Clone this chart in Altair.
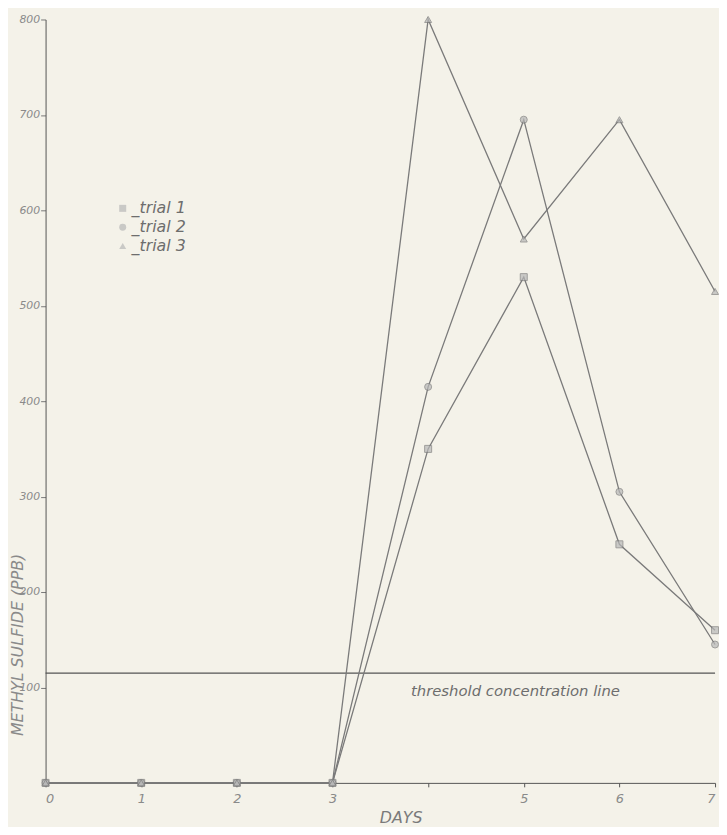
import altair as alt
import pandas as pd

days = [0, 1, 2, 3, 4, 5, 6, 7]
trial1 = [0, 0, 0, 0, 350, 530, 250, 160]
trial2 = [0, 0, 0, 0, 415, 695, 305, 145]
trial3 = [0, 0, 0, 0, 800, 570, 695, 515]
series_names = ["trial 1", "trial 2", "trial 3"]
threshold = [115]
threshold_label = ["threshold concentration line"]
threshold_label_day = [3.82]
x_ticks = [0, 1, 2, 3, 4, 5, 6, 7]
y_ticks = [100, 200, 300, 400, 500, 600, 700, 800]

rows = []
for name, vals in zip(series_names, [trial1, trial2, trial3]):
    for d, v in zip(days, vals):
        rows.append({"day": d, "ppb": v, "trial": name})
df = pd.DataFrame(rows)

thr_df = pd.DataFrame({"ppb": threshold, "label": threshold_label, "day": threshold_label_day})

FONT = "DejaVu Sans"
INK = "#6d6d6d"

x_scale = alt.Scale(domain=[0, 7], nice=False, zero=False)
y_scale = alt.Scale(domain=[0, 800], nice=False)

x_axis = alt.Axis(
    values=x_ticks,
    format="d",
    labelExpr="datum.value == 4 ? '' : datum.label",
    title="DAYS",
    titleX=359, titleY=35, titleBaseline="middle",
    titleFont=FONT, titleFontStyle="italic", titleFontWeight="normal",
    titleFontSize=16, titleColor="#7a7a7a",
    labelFont=FONT, labelFontStyle="italic", labelFontSize=13, labelColor="#8a8a8a",
    labelPadding=6, tickSize=4, tickColor="#555", domainColor="#555",
    grid=False,
)
y_axis = alt.Axis(
    values=y_ticks,
    title="METHYL SULFIDE (PPB)",
    titleX=-28, titleY=632, titleAngle=-90, titleAlign="center", titleBaseline="middle",
    titleFont=FONT, titleFontStyle="italic", titleFontWeight="normal",
    titleFontSize=16, titleColor="#8a8a8a",
    labelFont=FONT, labelFontStyle="italic", labelFontSize=11, labelColor="#8a8a8a",
    labelPadding=1, tickSize=5, tickColor="#777", domainColor="#555",
    grid=False,
)

base = alt.Chart(df)

lines = base.mark_line(strokeWidth=1.3, color="#7a7a7a").encode(
    x=alt.X("day:Q", scale=x_scale, axis=x_axis),
    y=alt.Y("ppb:Q", scale=y_scale, axis=y_axis),
    detail="trial:N",
)

points = base.mark_point(filled=True, size=50, strokeWidth=1).encode(
    x=alt.X("day:Q", scale=x_scale),
    y=alt.Y("ppb:Q", scale=y_scale),
    shape=alt.Shape(
        "trial:N",
        scale=alt.Scale(domain=series_names, range=["square", "circle", "triangle-up"]),
        legend=alt.Legend(
            title=None, orient="none", legendX=70, legendY=183,
            labelExpr="'_' + datum.label",
            labelFont=FONT, labelFontStyle="italic", labelFontSize=16, labelColor=INK,
            symbolFillColor="#c4c4c4", symbolStrokeColor="#6a6a6a", symbolSize=50,
            symbolStrokeWidth=1, rowPadding=3, labelOffset=1,
        ),
    ),
    color=alt.value("#b8b8b8"),
    stroke=alt.value("#7a7a7a"),
)

thr_line = alt.Chart(thr_df).mark_rule(color="#555", strokeWidth=1.2).encode(
    y=alt.Y("ppb:Q", scale=y_scale)
)
thr_text = alt.Chart(thr_df).mark_text(
    align="left", baseline="top", dy=11, font=FONT, fontStyle="italic", fontSize=15, color=INK
).encode(
    x=alt.X("day:Q", scale=x_scale),
    y=alt.Y("ppb:Q", scale=y_scale),
    text="label:N",
)

chart = (
    alt.layer(thr_line, lines, points, thr_text)
    .properties(
        width=677,
        height=772,
        autosize=alt.AutoSizeParams(type="none"),
        padding={"left": 38, "top": 7, "right": 4, "bottom": 40},
        background="#f4f2e9",
    )
    .configure_view(stroke=None)
)

chart.save("out.html", embed_options={"renderer": "svg", "actions": False})
